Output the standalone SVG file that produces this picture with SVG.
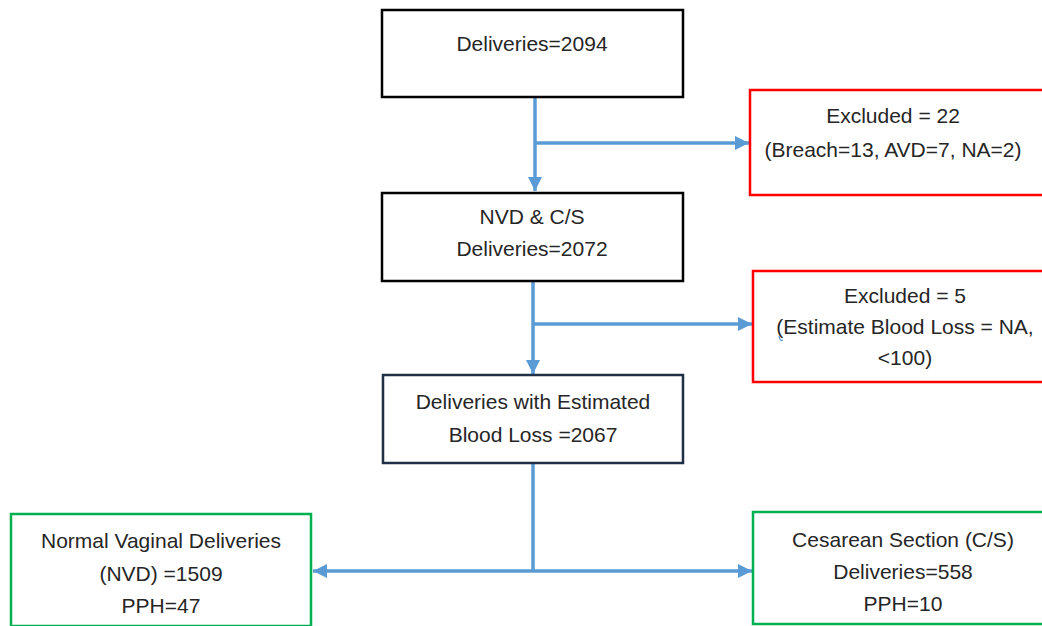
<svg xmlns="http://www.w3.org/2000/svg" width="1042" height="626" viewBox="0 0 1042 626">
<style>
.box{fill:#ffffff;stroke-width:2.5}
.blk{stroke:#000000}
.navy{stroke:#1f2f45}
.red{stroke:#ff0000}
.grn{stroke:#00b050}
text{font-family:"Liberation Sans",Arial,sans-serif;font-size:21px;fill:#262626;text-anchor:middle}
.con{fill:none;stroke:#5b9bd5;stroke-width:3.5}
</style>
<defs>
<marker id="ah" viewBox="0 0 10 10" refX="10" refY="5" markerWidth="4" markerHeight="4" orient="auto" markerUnits="strokeWidth">
<path d="M0,0 L10,5 L0,10 z" fill="#5b9bd5"/>
</marker>
</defs>
<rect width="1042" height="626" fill="#ffffff"/>
<g id="connectors">
<path class="con" d="M535,97 V191" marker-end="url(#ah)"/>
<path class="con" d="M535,143 H749" marker-end="url(#ah)"/>
<path class="con" d="M533,281 V374" marker-end="url(#ah)"/>
<path class="con" d="M533,324 H752" marker-end="url(#ah)"/>
<path class="con" d="M533,463 V571"/>
<path class="con" d="M533,571 H313" marker-end="url(#ah)"/>
<path class="con" d="M533,571 H752" marker-end="url(#ah)"/>
</g>
<g id="n1">
<rect class="box blk" x="382" y="10" width="301" height="87"/>
<text x="532" y="51">Deliveries=2094</text>
</g>
<g id="n2">
<rect class="box red" x="750" y="90" width="300" height="105"/>
<text x="893" y="123">Excluded = 22</text>
<text x="893" y="157">(Breach=13, AVD=7, NA=2)</text>
</g>
<g id="n3">
<rect class="box blk" x="382" y="193" width="301" height="88"/>
<text x="532" y="224">NVD &amp; C/S</text>
<text x="532" y="256">Deliveries=2072</text>
</g>
<g id="n4">
<rect class="box red" x="753" y="271" width="300" height="111"/>
<text x="905" y="303">Excluded = 5</text>
<text x="905" y="334">(Estimate Blood Loss = NA,</text>
<text x="905" y="365">&lt;100)</text>
<path d="M779,336 q1,6 4,4" fill="none" stroke="#5b9bd5" stroke-width="1.2"/>
</g>
<g id="n5">
<rect class="box navy" x="383" y="375" width="300" height="88"/>
<text x="533" y="409">Deliveries with Estimated</text>
<text x="533" y="442">Blood Loss =2067</text>
</g>
<g id="n6">
<rect class="box grn" x="11" y="514" width="300" height="112"/>
<text x="161" y="548">Normal Vaginal Deliveries</text>
<text x="161" y="581">(NVD) =1509</text>
<text x="161" y="613">PPH=47</text>
</g>
<g id="n7">
<rect class="box grn" x="753" y="512" width="300" height="112"/>
<text x="903" y="547">Cesarean Section (C/S)</text>
<text x="903" y="579">Deliveries=558</text>
<text x="903" y="611">PPH=10</text>
</g>
</svg>
